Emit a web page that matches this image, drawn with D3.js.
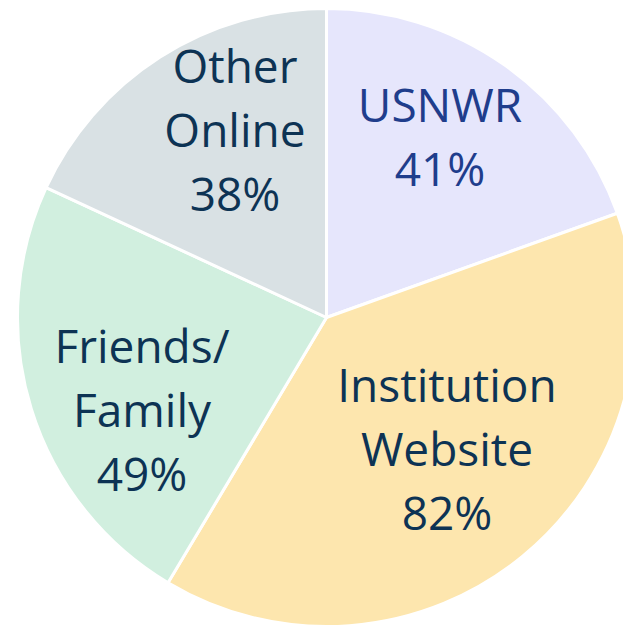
<!DOCTYPE html>
<html><head><meta charset="utf-8">
<script src="https://cdn.jsdelivr.net/npm/d3@7"></script>
<style>html,body{margin:0;padding:0;background:#fff;}svg{display:block;}</style>
</head><body>
<div id="chart"></div>
<script>
const categories = ["USNWR", "Institution Website", "Friends/ Family", "Other Online"];
const values = [41, 82, 49, 38];
const labelLines = [["USNWR", "41%"], ["Institution", "Website", "82%"], ["Friends/", "Family", "49%"], ["Other", "Online", "38%"]];
const fills = ["#E6E6FC", "#FDE6AE", "#D1EFDF", "#D9E1E4"];
const textColors = ["#1F3D8C", "#0D3354", "#0D3354", "#0D3354"];
// label block anchor (center x, first baseline y) – layout only
const labelPos = [[440, 122], [447, 402], [142, 363], [235, 83]];

const W = 623, H = 627;
const cx = 326.5, cy = 317.5, R = 309;
const svg = d3.select("#chart").append("svg").attr("width", W).attr("height", H);

const data = categories.map((c, i) => ({ name: c, value: values[i], i }));
const pie = d3.pie().value(d => d.value).sort(null);
const arc = d3.arc().innerRadius(0).outerRadius(R);

const g = svg.append("g").attr("transform", `translate(${cx},${cy})`);
g.selectAll("path").data(pie(data)).join("path")
  .attr("d", arc)
  .attr("fill", d => fills[d.data.i])
  .attr("stroke", "#fff")
  .attr("stroke-width", 3)
  .attr("stroke-linejoin", "round");

const lineH = 64;
data.forEach((d, i) => {
  const t = svg.append("text")
    .attr("text-anchor", "middle")
    .attr("font-family", "'Open Sans', sans-serif")
    .attr("font-size", 46)
    .attr("fill", textColors[i]);
  labelLines[i].forEach((ln, k) => {
    t.append("tspan").attr("x", labelPos[i][0]).attr("y", labelPos[i][1] + k * lineH).text(ln);
  });
});
</script>
</body></html>
